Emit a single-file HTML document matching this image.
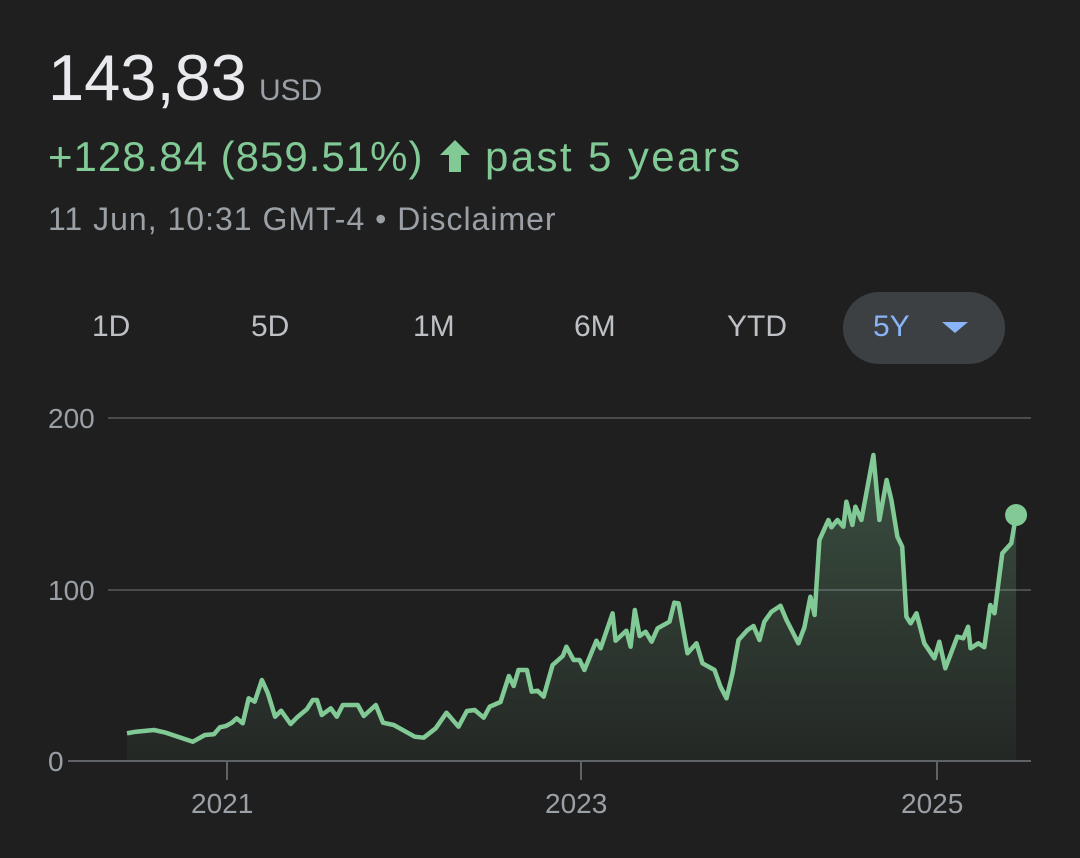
<!DOCTYPE html>
<html><head><meta charset="utf-8"><style>
body{margin:0;width:1080px;height:858px;background:#1f1f1f;font-family:"Liberation Sans",Arial,sans-serif;overflow:hidden;position:relative}
.a{position:absolute;white-space:nowrap}
</style></head><body>
<div class="a" style="left:48px;top:40px;font-size:65px;color:#e8eaed">143,83</div>
<div class="a" style="left:259px;top:74px;font-size:30px;color:#9aa0a6">USD</div>
<div class="a" style="left:48px;top:133px;font-size:42px;letter-spacing:1px;color:#81c995">+128.84 (859.51%)</div>
<svg class="a" style="left:438px;top:138px" width="34" height="36"><polygon points="17,2 32,17 23,17 23,34 11,34 11,17 2,17" fill="#81c995"/></svg>
<div class="a" style="left:485px;top:133px;font-size:42px;letter-spacing:2.4px;color:#81c995">past 5 years</div>
<div class="a" style="left:48px;top:201px;font-size:32px;letter-spacing:1px;color:#9aa0a6">11 Jun, 10:31 GMT-4 • Disclaimer</div>
<div class="a" style="left:92px;top:310px;font-size:30px;color:#bdc1c6">1D</div>
<div class="a" style="left:251px;top:310px;font-size:30px;color:#bdc1c6">5D</div>
<div class="a" style="left:413px;top:310px;font-size:30px;color:#bdc1c6">1M</div>
<div class="a" style="left:574px;top:310px;font-size:30px;color:#bdc1c6">6M</div>
<div class="a" style="left:727px;top:310px;font-size:30px;color:#bdc1c6">YTD</div>
<div class="a" style="left:843px;top:292px;width:162px;height:72px;border-radius:36px;background:#3c4043"></div>
<div class="a" style="left:873px;top:310px;font-size:30px;color:#8ab4f8">5Y</div>
<svg class="a" style="left:940px;top:320px" width="30" height="14"><polygon points="2,2 28,2 15,13" fill="#8ab4f8"/></svg>
<div class="a" style="left:48px;top:403px;font-size:28px;color:#9aa0a6">200</div>
<div class="a" style="left:48px;top:575px;font-size:28px;color:#9aa0a6">100</div>
<div class="a" style="left:48px;top:746px;font-size:28px;color:#9aa0a6">0</div>
<div class="a" style="left:191px;top:788px;font-size:28px;color:#9aa0a6">2021</div>
<div class="a" style="left:545px;top:788px;font-size:28px;color:#9aa0a6">2023</div>
<div class="a" style="left:901px;top:788px;font-size:28px;color:#9aa0a6">2025</div>
<svg id="s" class="a" style="left:0;top:0" width="1080" height="858">
<defs><linearGradient id="g" x1="0" y1="0" x2="0" y2="1"><stop offset="0" stop-color="#81c995" stop-opacity="0.28"/><stop offset="1" stop-color="#81c995" stop-opacity="0.05"/></linearGradient></defs>
<line x1="108" y1="418" x2="1031" y2="418" stroke="#4a4b4d" stroke-width="2"/>
<line x1="108" y1="590" x2="1031" y2="590" stroke="#4a4b4d" stroke-width="2"/>
<line x1="68" y1="761" x2="1031" y2="761" stroke="#5f6368" stroke-width="2"/>
<line x1="227" y1="761" x2="227" y2="780" stroke="#5f6368" stroke-width="2"/>
<line x1="581" y1="761" x2="581" y2="780" stroke="#5f6368" stroke-width="2"/>
<line x1="937" y1="761" x2="937" y2="780" stroke="#5f6368" stroke-width="2"/>
<path id="f" fill="url(#g)"/>
<path id="l" fill="none" stroke="#81c995" stroke-width="4.5" stroke-linejoin="round"/>
<circle id="c" r="11" fill="#81c995"/>
</svg>
<script>
var P=[45,880,60,875,90,870,110,878,135,893,155,905,175,885,190,883,200,862,210,858,220,848,228,835,238,850,248,775,258,785,270,720,280,760,292,830,302,812,318,852,330,830,345,808,355,780,362,780,370,825,385,805,395,830,405,795,430,795,440,828,460,795,472,848,490,855,510,875,525,890,540,893,560,865,578,818,598,860,612,813,625,810,640,833,650,800,668,786,682,708,690,738,698,690,712,690,720,755,730,752,740,770,755,675,772,648,778,620,790,660,800,660,808,690,828,602,835,625,855,520,860,602,878,572,885,620,892,510,900,588,910,575,920,605,930,565,950,545,958,488,965,490,980,640,995,610,1005,670,1025,690,1035,740,1045,775,1055,700,1065,600,1080,570,1090,558,1100,600,1108,545,1120,515,1135,497,1145,540,1165,610,1175,562,1185,470,1192,525,1200,300,1215,240,1220,262,1230,240,1240,260,1245,185,1255,255,1260,200,1270,240,1290,45,1300,240,1312,120,1320,180,1330,290,1338,320,1345,530,1352,550,1362,520,1375,610,1392,655,1400,605,1410,685,1430,590,1440,595,1448,560,1452,625,1465,610,1475,622,1485,495,1492,520,1505,340,1520,310,1528,225];
var d="",x,y,x0,xl,yl;
for(var i=0;i<P.length;i+=2){x=100+P[i]/1.668;y=440+P[i+1]/3;d+=(i?"L":"M")+x.toFixed(1)+","+y.toFixed(1);if(!i)x0=x;xl=x;yl=y;}
document.getElementById("l").setAttribute("d",d);
document.getElementById("f").setAttribute("d",d+"L"+xl+",760L"+x0+",760Z");
var c=document.getElementById("c");c.setAttribute("cx",xl);c.setAttribute("cy",yl);
</script>
</body></html>
